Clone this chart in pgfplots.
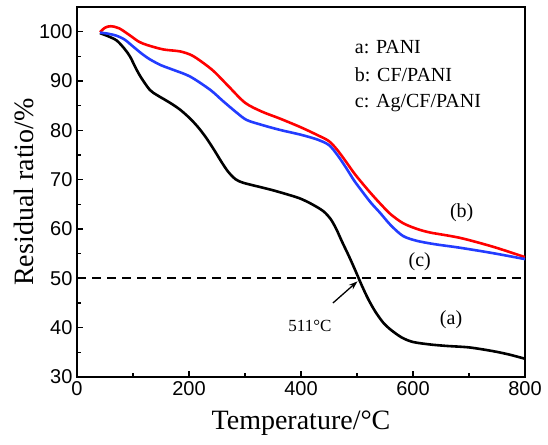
\documentclass[border=0pt]{standalone}
\usepackage{fontspec}
\setmainfont{Liberation Serif}
\newfontfamily\tickfont{Liberation Sans}
\usepackage{pgfplots}
\pgfplotsset{compat=1.18}
\usetikzlibrary{arrows.meta}
\definecolor{cblue}{RGB}{35,60,255}
\definecolor{cred}{RGB}{255,0,0}
\begin{document}
\begin{tikzpicture}
\begin{axis}[
  scale only axis,
  width=448bp, height=370bp,
  xmin=0, xmax=800, ymin=30, ymax=105,
  xtick={0,200,400,600,800},
  ytick={30,40,50,60,70,80,90,100},
  minor xtick={100,300,500,700},
  minor ytick={35,45,55,65,75,85,95},
  xtick pos=bottom, ytick pos=left,
  tick align=inside,
  major tick length=6bp, minor tick length=4bp,
  every tick/.style={line width=1.3bp, black},
  axis line style={line width=1.6bp},
  /pgf/number format/assume math mode=true,
  ticklabel style={font=\tickfont\fontsize{20bp}{22bp}\selectfont},
  xticklabel style={yshift=-1bp},
  yticklabel style={xshift=-1bp},
  xlabel={Temperature/\textdegree C},
  ylabel={Residual ratio/\%},
  label style={font=\fontsize{28bp}{30bp}\selectfont},
  xlabel style={yshift=-8bp},
  ylabel style={yshift=-2bp},
]
\addplot[black, line width=1.8bp, dash pattern=on 9bp off 6bp] coordinates {(0,50) (800,50)};
\addplot[black, line width=2.6bp, smooth, tension=0.5] coordinates {
(41,99.7) (55,99.1) (71,98.2) (85,96.5) (95,94.9) (105,92.6) (115,90.6) (130,88.2)
(142,87.2) (154,86.4) (170,85.3) (184,84.2) (200,82.6) (215,80.8) (230,78.6) (245,76.0)
(258,73.6) (270,71.6) (283,70.1) (296,69.4) (320,68.7) (345,68.0) (370,67.2) (398,66.2)
(420,65.0) (440,63.6) (453,62.0) (463,60.0) (473,57.5) (486,54.4) (497,51.6) (508,48.7)
(520,45.8) (533,43.2) (547,41.0) (560,39.6) (580,38.0) (600,37.1) (630,36.6) (660,36.3)
(700,36.0) (740,35.3) (770,34.6) (800,33.7)};
\addplot[cred, line width=2.6bp, smooth, tension=0.5] coordinates {
(41,99.9) (50,100.8) (60,101.1) (75,100.7) (95,99.2) (110,98.0) (125,97.3) (154,96.4)
(184,96.0) (205,95.2) (225,93.7) (245,91.9) (270,89.0) (300,85.6) (330,83.8) (362,82.4)
(400,80.6) (430,79.0) (450,77.8) (465,76.0) (480,73.7) (495,71.3) (510,69.2) (525,67.2)
(541,65.2) (560,63.0) (582,61.2) (605,60.1) (630,59.3) (684,58.2) (743,56.4) (800,54.3)};
\addplot[cblue, line width=2.6bp, smooth, tension=0.5] coordinates {
(41,99.8) (55,99.6) (70,99.2) (85,98.4) (100,97.0) (115,95.6) (130,94.4) (150,93.2)
(171,92.3) (202,90.9) (238,88.2) (260,86.0) (285,83.6) (303,82.1) (330,81.1) (362,80.1)
(400,79.1) (430,78.1) (450,77.0) (465,75.0) (480,72.5) (495,69.8) (510,67.5) (525,65.3)
(541,63.3) (560,60.8) (582,58.6) (607,57.6) (640,56.9) (684,56.2) (743,55.1) (800,53.9)};
\node[font=\fontsize{20bp}{22bp}\selectfont] at (axis cs:687,63.3) {(b)};
\node[font=\fontsize{20bp}{22bp}\selectfont] at (axis cs:612,53.3) {(c)};
\node[font=\fontsize{20bp}{22bp}\selectfont] at (axis cs:668,41.6) {(a)};
\node[font=\fontsize{17bp}{19bp}\selectfont] at (axis cs:416,40.3) {511\textdegree C};
\draw[-{Stealth[length=9bp,width=6bp]}, line width=1.3bp] (axis cs:457,45) -- (axis cs:501,49.4);
\node[anchor=west, font=\fontsize{20bp}{22bp}\selectfont, inner sep=0pt] at (axis cs:496,96.9) {a: PANI};
\node[anchor=west, font=\fontsize{20bp}{22bp}\selectfont, inner sep=0pt] at (axis cs:496,91.3) {b: CF/PANI};
\node[anchor=west, font=\fontsize{20bp}{22bp}\selectfont, inner sep=0pt] at (axis cs:496,85.6) {c: Ag/CF/PANI};
\end{axis}
\pgfresetboundingbox
\path ([shift={(-77bp,-67bp)}]current axis.south west) rectangle ([shift={(23bp,7bp)}]current axis.north east);
\end{tikzpicture}
\end{document}
